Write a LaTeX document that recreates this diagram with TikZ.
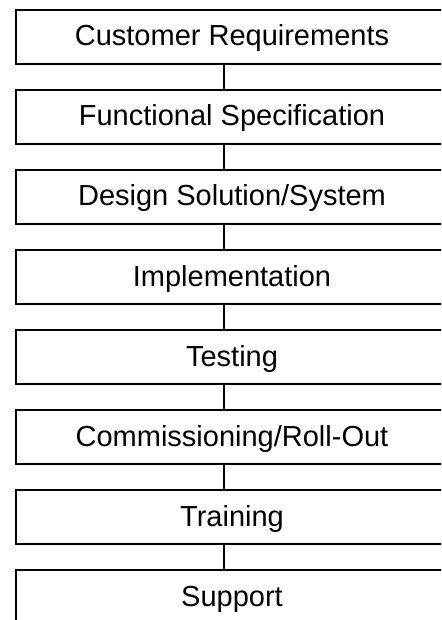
\documentclass[tikz,border=0pt]{standalone}
\usepackage{fontspec}
\setmainfont{Liberation Sans}
\begin{document}
\begin{tikzpicture}[x=1pt,y=-1pt,
  stagebox/.style={draw=black, line width=1.5pt, minimum width=432pt, minimum height=54pt,
    inner sep=0pt, text height=21pt, text depth=3pt,
    font=\fontsize{29}{34}\selectfont},
  link/.style={draw=black, line width=1.5pt}]
\useasboundingbox (0,0) rectangle (441,620);
\clip (0,0) rectangle (441,620);
\fill[white] (0,0) rectangle (441,620);
\node[stagebox] (b1) at (232,37) {Customer Requirements};
\node[stagebox] (b2) at (232,117) {Functional Specification};
\node[stagebox] (b3) at (232,197) {Design Solution/System};
\node[stagebox] (b4) at (232,277) {Implementation};
\node[stagebox] (b5) at (232,357) {Testing};
\node[stagebox] (b6) at (232,437) {Commissioning/Roll-Out};
\node[stagebox] (b7) at (232,517) {Training};
\node[stagebox] (b8) at (232,597) {Support};
\foreach \a/\b in {b1/b2,b2/b3,b3/b4,b4/b5,b5/b6,b6/b7,b7/b8}
  \draw[link] ([xshift=-8pt]\a.south) -- ([xshift=-8pt]\b.north);
\end{tikzpicture}
\end{document}
